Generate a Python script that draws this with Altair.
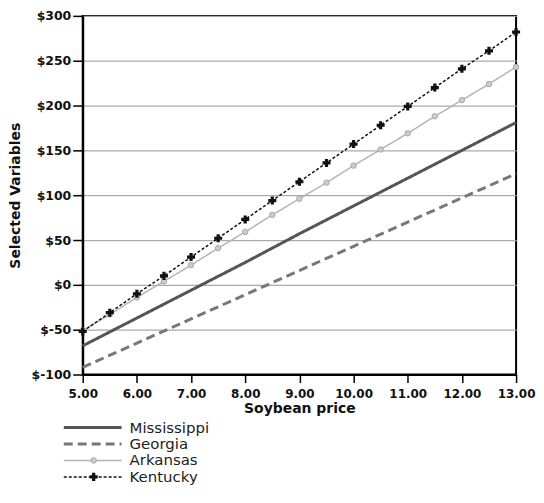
import altair as alt
import pandas as pd

# ---- data ----
half_prices = [5.0, 5.5, 6.0, 6.5, 7.0, 7.5, 8.0, 8.5, 9.0, 9.5, 10.0, 10.5, 11.0, 11.5, 12.0, 12.5, 13.0]
kentucky = [-52, -31, -10, 10, 31, 52, 73, 94, 115, 136, 157, 178, 199, 220, 241, 261, 282]
arkansas = [-51, -33, -14, 4, 22, 41, 59, 78, 96, 114, 133, 151, 169, 188, 206, 224, 243]
int_prices = [5.0, 6.0, 7.0, 8.0, 9.0, 10.0, 11.0, 12.0, 13.0]
mississippi = [-68, -37, -6, 25, 57, 88, 119, 150, 181]
georgia = [-92, -65, -38, -11, 16, 43, 70, 97, 124]
y_ticks = [-100, -50, 0, 50, 100, 150, 200, 250, 300]

series = ["Mississippi", "Georgia", "Arkansas", "Kentucky"]
colors = ["#555555", "#777777", "#b4b4b4", "#111111"]
dashes = [[1, 0], [9, 5], [1, 0], [3, 2]]
widths = [3, 3, 1.5, 1.5]

rows = []
for p, v in zip(int_prices, mississippi):
    rows.append({"series": "Mississippi", "price": p, "value": v})
for p, v in zip(int_prices, georgia):
    rows.append({"series": "Georgia", "price": p, "value": v})
for p, v in zip(half_prices, arkansas):
    rows.append({"series": "Arkansas", "price": p, "value": v})
for p, v in zip(half_prices, kentucky):
    rows.append({"series": "Kentucky", "price": p, "value": v})
df = pd.DataFrame(rows)

FONT = "DejaVu Sans"

xscale = alt.Scale(domain=[5, 13], nice=False, zero=False)
yscale = alt.Scale(domain=[-100, 300], nice=False, zero=False)

base = alt.Chart(df)

def line_layer(name, color, dash, width):
    return base.transform_filter(alt.datum.series == name).mark_line(
        color=color, strokeDash=dash, strokeWidth=width
    ).encode(
        x=alt.X("price:Q", scale=xscale, title="Soybean price",
                axis=alt.Axis(values=int_prices, format=".2f", grid=False, labelOverlap=False,
                              labelFlush=False, labelFontSize=12, tickSize=8, labelPadding=6,
                              titlePadding=2)),
        y=alt.Y("value:Q", scale=yscale, title="Selected Variables",
                axis=alt.Axis(values=y_ticks, labelExpr="'$' + datum.value", grid=True,
                              labelOverlap=False, labelFlush=False, tickSize=10,
                              labelPadding=2, titleX=-60)),
    )

layers = [line_layer(s, c, d, w) for s, c, d, w in zip(series, colors, dashes, widths)]

ark_pts = base.transform_filter(alt.datum.series == "Arkansas").mark_point(
    shape="circle", filled=True, color="#cccccc", stroke="#a8a8a8", strokeWidth=1, size=30, opacity=1
).encode(x=alt.X("price:Q", scale=xscale), y=alt.Y("value:Q", scale=yscale))

ken_pts = base.transform_filter(alt.datum.series == "Kentucky").mark_point(
    shape="cross", filled=True, color="#111111", size=65, opacity=1
).encode(x=alt.X("price:Q", scale=xscale), y=alt.Y("value:Q", scale=yscale))

main = alt.layer(*layers, ark_pts, ken_pts).properties(
    width=435, height=360,
    view=alt.ViewBackground(stroke="black", strokeWidth=2, strokeOpacity=1),
)

# ---- legend panel ----
leg_df = pd.DataFrame({"series": series})
ysc = alt.Scale(type="point", domain=series, padding=0.5)
leg_base = alt.Chart(leg_df)
leg_layers = []
for s, c, d, w in zip(series, colors, dashes, widths):
    leg_layers.append(
        leg_base.transform_filter(alt.datum.series == s).mark_rule(
            color=c, strokeDash=d, strokeWidth=w
        ).encode(x=alt.value(-19), x2=alt.value(39), y=alt.Y("series:N", scale=ysc, axis=None))
    )
leg_layers.append(
    leg_base.transform_filter(alt.datum.series == "Arkansas").mark_point(
        shape="circle", filled=True, color="#cccccc", stroke="#a8a8a8", strokeWidth=1, size=30, opacity=1
    ).encode(x=alt.value(11), y=alt.Y("series:N", scale=ysc, axis=None))
)
leg_layers.append(
    leg_base.transform_filter(alt.datum.series == "Kentucky").mark_point(
        shape="cross", filled=True, color="#111111", size=65, opacity=1
    ).encode(x=alt.value(11), y=alt.Y("series:N", scale=ysc, axis=None))
)
leg_layers.append(
    leg_base.mark_text(align="left", baseline="middle", font=FONT, fontSize=15, color="#222222").encode(
        x=alt.value(47), y=alt.Y("series:N", scale=ysc, axis=None), text="series:N"
    )
)
legend = alt.layer(*leg_layers).properties(
    width=160, height=66,
    view=alt.ViewBackground(strokeOpacity=0),
)

chart = alt.vconcat(main, legend, spacing=3).properties(
    padding={"top": 0, "left": 0, "right": 0, "bottom": 0}
).configure_axis(
    domainColor="black", domainWidth=2, tickColor="black", tickWidth=1.5,
    labelFont=FONT, labelFontSize=12.5, labelFontWeight="bold", labelColor="#111111",
    titleFont=FONT, titleFontSize=14, titleFontWeight="bold", titleColor="#111111",
    gridColor="#aaaaaa", gridWidth=1.3,
)

chart.save("out.html", embed_options={"renderer": "svg", "actions": False})
